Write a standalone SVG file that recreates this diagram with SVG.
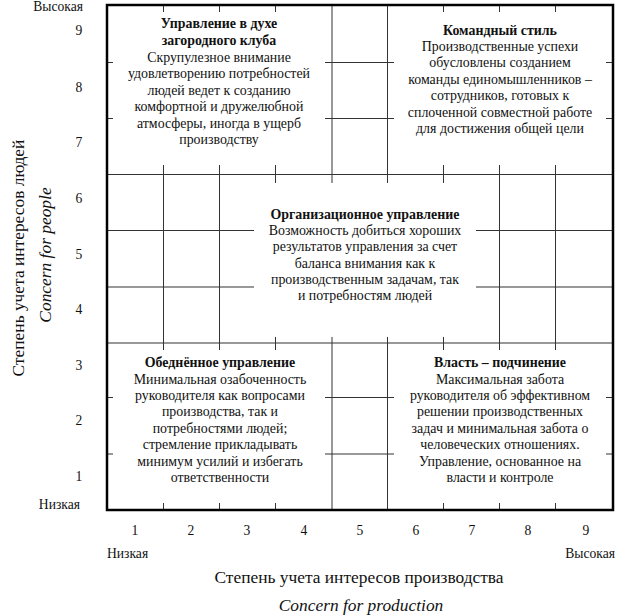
<svg xmlns="http://www.w3.org/2000/svg" width="623" height="615" viewBox="0 0 623 615">
<style>
.t{font-family:'Liberation Serif','Times New Roman',serif;font-size:13.9px;fill:#111;text-anchor:middle}
.b{font-weight:bold}
.ax{font-family:'Liberation Serif','Times New Roman',serif;font-size:13.6px;fill:#111}
.ttl{font-family:'Liberation Serif','Times New Roman',serif;font-size:17.4px;fill:#111;text-anchor:middle}
.it{font-style:italic}
.g{stroke:#333;stroke-width:1;fill:none}
.w{fill:#fff;stroke:none}
</style>
<rect width="623" height="615" fill="#fff"/>
<g id="grid" class="g">
<line x1="163.5" y1="5" x2="163.5" y2="510"/>
<line x1="219.5" y1="5" x2="219.5" y2="510"/>
<line x1="275.5" y1="5" x2="275.5" y2="510"/>
<line x1="332" y1="5" x2="332" y2="510"/>
<line x1="387.5" y1="5" x2="387.5" y2="510"/>
<line x1="443.5" y1="5" x2="443.5" y2="510"/>
<line x1="499.5" y1="5" x2="499.5" y2="510"/>
<line x1="555.5" y1="5" x2="555.5" y2="510"/>
<line x1="107" y1="62.5" x2="613" y2="62.5"/>
<line x1="107" y1="118.5" x2="613" y2="118.5"/>
<line x1="107" y1="174.5" x2="613" y2="174.5"/>
<line x1="107" y1="230.5" x2="613" y2="230.5"/>
<line x1="107" y1="287" x2="613" y2="287"/>
<line x1="107" y1="343" x2="613" y2="343"/>
<line x1="107" y1="397.5" x2="613" y2="397.5"/>
<line x1="107" y1="454" x2="613" y2="454"/>
</g>
<g id="country-club">
<rect class="w" x="113" y="12" width="212" height="153"/>
<text class="t b" x="219" y="28">Управление в духе</text>
<text class="t b" x="219" y="45">загородного клуба</text>
<text class="t" x="219" y="62">Скрупулезное внимание</text>
<text class="t" x="219" y="78">удовлетворению потребностей</text>
<text class="t" x="219" y="95">людей ведет к созданию</text>
<text class="t" x="219" y="111">комфортной и дружелюбной</text>
<text class="t" x="219" y="128">атмосферы, иногда в ущерб</text>
<text class="t" x="219" y="144">производству</text>
</g>
<g id="team">
<rect class="w" x="394" y="12" width="212" height="153"/>
<text class="t b" x="500" y="35">Командный стиль</text>
<text class="t" x="500" y="51">Производственные успехи</text>
<text class="t" x="500" y="67">обусловлены созданием</text>
<text class="t" x="500" y="84">команды единомышленников –</text>
<text class="t" x="500" y="100">сотрудников, готовых к</text>
<text class="t" x="500" y="117">сплоченной совместной работе</text>
<text class="t" x="500" y="133">для достижения общей цели</text>
</g>
<g id="middle-road">
<rect class="w" x="254" y="183" width="222" height="154"/>
<text class="t b" x="365" y="219">Организационное управление</text>
<text class="t" x="365" y="235">Возможность добиться хороших</text>
<text class="t" x="365" y="251">результатов управления за счет</text>
<text class="t" x="365" y="268">баланса внимания как к</text>
<text class="t" x="365" y="284">производственным задачам, так</text>
<text class="t" x="365" y="300">и потребностям людей</text>
</g>
<g id="impoverished">
<rect class="w" x="113" y="350" width="212" height="153"/>
<text class="t b" x="220" y="367">Обеднённое управление</text>
<text class="t" x="220" y="384">Минимальная озабоченность</text>
<text class="t" x="220" y="400">руководителя как вопросами</text>
<text class="t" x="220" y="416">производства, так и</text>
<text class="t" x="220" y="433">потребностями людей;</text>
<text class="t" x="220" y="449">стремление прикладывать</text>
<text class="t" x="220" y="466">минимум усилий и избегать</text>
<text class="t" x="220" y="482">ответственности</text>
</g>
<g id="authority">
<rect class="w" x="394" y="350" width="212" height="153"/>
<text class="t b" x="500" y="367">Власть – подчинение</text>
<text class="t" x="500" y="384">Максимальная забота</text>
<text class="t" x="500" y="400">руководителя об эффективном</text>
<text class="t" x="500" y="416">решении производственных</text>
<text class="t" x="500" y="433">задач и минимальная забота о</text>
<text class="t" x="500" y="449">человеческих отношениях.</text>
<text class="t" x="500" y="466">Управление, основанное на</text>
<text class="t" x="500" y="482">власти и контроле</text>
</g>
<rect id="frame" x="107" y="5" width="506" height="505" fill="none" stroke="#000" stroke-width="2.5"/>
<g id="y-axis">
<text class="ax" x="83" y="11" text-anchor="end">Высокая</text>
<text class="ax" x="79" y="35" text-anchor="middle">9</text>
<text class="ax" x="79" y="92" text-anchor="middle">8</text>
<text class="ax" x="79" y="147" text-anchor="middle">7</text>
<text class="ax" x="79" y="203" text-anchor="middle">6</text>
<text class="ax" x="79" y="259" text-anchor="middle">5</text>
<text class="ax" x="79" y="314" text-anchor="middle">4</text>
<text class="ax" x="79" y="370" text-anchor="middle">3</text>
<text class="ax" x="79" y="425" text-anchor="middle">2</text>
<text class="ax" x="79" y="481" text-anchor="middle">1</text>
<text class="ax" x="80" y="509" text-anchor="end">Низкая</text>
<text class="ttl" transform="translate(24,258) rotate(-90)">Степень учета интересов людей</text>
<text class="ttl it" transform="translate(51,255) rotate(-90)">Concern for people</text>
</g>
<g id="x-axis">
<text class="ax" x="135" y="535" text-anchor="middle">1</text>
<text class="ax" x="191" y="535" text-anchor="middle">2</text>
<text class="ax" x="247" y="535" text-anchor="middle">3</text>
<text class="ax" x="304" y="535" text-anchor="middle">4</text>
<text class="ax" x="360" y="535" text-anchor="middle">5</text>
<text class="ax" x="416" y="535" text-anchor="middle">6</text>
<text class="ax" x="472" y="535" text-anchor="middle">7</text>
<text class="ax" x="528" y="535" text-anchor="middle">8</text>
<text class="ax" x="586" y="535" text-anchor="middle">9</text>
<text class="ax" x="107" y="558">Низкая</text>
<text class="ax" x="615" y="558" text-anchor="end">Высокая</text>
<text class="ttl" x="359" y="583">Степень учета интересов производства</text>
<text class="ttl it" x="361" y="611">Concern for production</text>
</g>
</svg>
